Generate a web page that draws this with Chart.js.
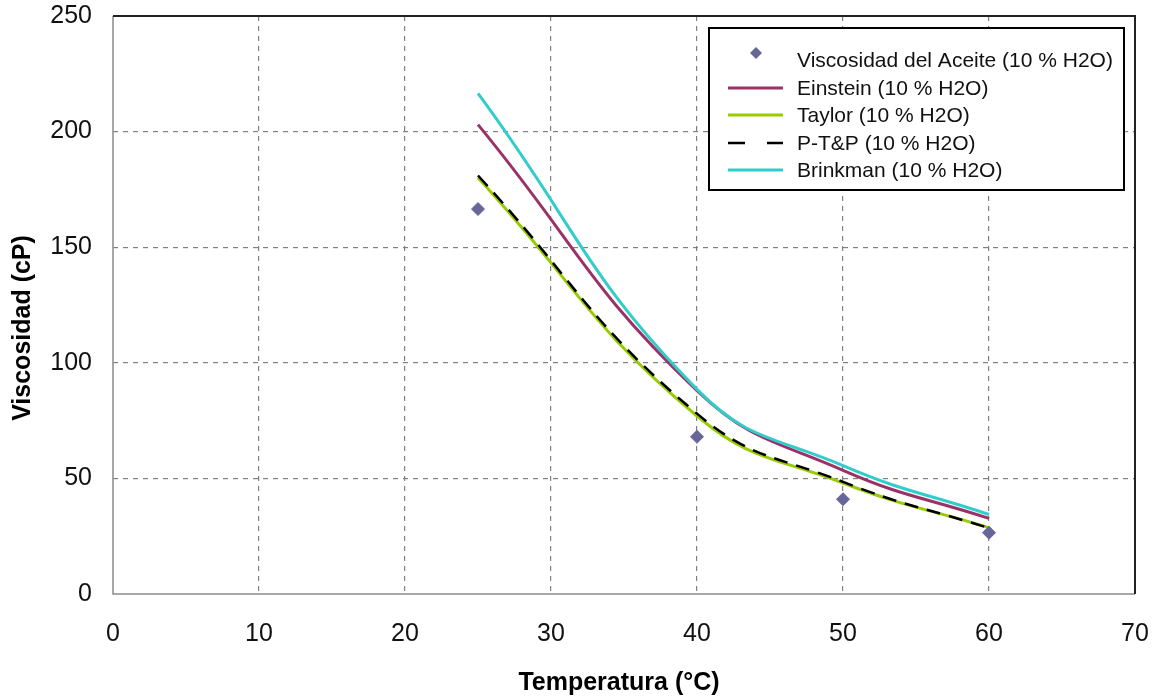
<!DOCTYPE html>
<html>
<head>
<meta charset="utf-8">
<script src="https://cdn.jsdelivr.net/npm/chart.js@4.4.1/dist/chart.umd.min.js"></script>
<style>
html,body{margin:0;padding:0;background:#fff;}
canvas{display:block;}
</style>
</head>
<body>
<canvas id="c" width="1154" height="700"></canvas>
<script>
const temperatures = [25, 40, 50, 60];
const viscosidadAceite = [166.5, 68, 41, 26.5];
const einstein = [203, 88, 53.5, 32.7];
const taylor = [180, 77, 48, 28.7];
const ptp = [181, 78, 48.5, 28.5];
const brinkman = [216.5, 88.5, 55.5, 34.4];
const seriesLabels = [
  'Viscosidad del Aceite (10 % H2O)',
  'Einstein (10 % H2O)',
  'Taylor (10 % H2O)',
  'P-T&P (10 % H2O)',
  'Brinkman (10 % H2O)'
];
const xTitle = 'Temperatura (°C)';
const yTitle = 'Viscosidad (cP)';
const xTicks = [0, 10, 20, 30, 40, 50, 60, 70];
const yTicks = [0, 50, 100, 150, 200, 250];

const pts = arr => temperatures.map((t, i) => ({x: t, y: arr[i]}));
const FONT = "'Liberation Sans', Arial, sans-serif";

const datasets = [
  {label: seriesLabels[0], data: pts(viscosidadAceite), showLine: false, pointStyle: 'rectRot',
   pointRadius: 6.5, pointBackgroundColor: '#666699', pointBorderColor: '#666699', borderColor: '#666699', order: 0},
  {label: seriesLabels[1], data: pts(einstein), showLine: true, borderColor: '#993366', borderWidth: 3,
   pointRadius: 0, tension: 0.45, order: 4},
  {label: seriesLabels[2], data: pts(taylor), showLine: true, borderColor: '#99cc00', borderWidth: 3,
   pointRadius: 0, tension: 0.45, order: 3},
  {label: seriesLabels[3], data: pts(ptp), showLine: true, borderColor: '#000000', borderWidth: 2.5,
   borderDash: [14, 9], pointRadius: 0, tension: 0.45, order: 2},
  {label: seriesLabels[4], data: pts(brinkman), showLine: true, borderColor: '#33cccc', borderWidth: 3,
   pointRadius: 0, tension: 0.45, order: 1}
];

const frameAndText = {
  id: 'frameAndText',
  afterDraw(chart) {
    const {ctx, chartArea: a} = chart;
    ctx.save();
    // plot frame
    ctx.lineWidth = 1.5;
    ctx.strokeStyle = '#8a8a8a';
    ctx.beginPath(); ctx.moveTo(a.left, a.top); ctx.lineTo(a.left, a.bottom); ctx.lineTo(a.right, a.bottom); ctx.stroke();
    ctx.strokeStyle = '#222';
    ctx.lineWidth = 2;
    ctx.beginPath(); ctx.moveTo(a.left, a.top); ctx.lineTo(a.right, a.top); ctx.lineTo(a.right, a.bottom); ctx.stroke();

    // axis titles
    ctx.fillStyle = '#000';
    ctx.font = 'bold 25px ' + FONT;
    ctx.textAlign = 'center';
    ctx.textBaseline = 'middle';
    ctx.fillText(xTitle, 619, 683);
    ctx.translate(23, 328);
    ctx.rotate(-Math.PI / 2);
    ctx.fillText(yTitle, 0, 0);
    ctx.restore();

    // legend
    ctx.save();
    const bx = 709, by = 28, bw = 415, bh = 162;
    ctx.fillStyle = '#fff';
    ctx.fillRect(bx, by, bw, bh);
    ctx.strokeStyle = '#000';
    ctx.lineWidth = 2;
    ctx.strokeRect(bx, by, bw, bh);
    const rows = [60, 88, 115, 143, 170];
    ctx.font = '21px ' + FONT;
    ctx.textAlign = 'left';
    ctx.textBaseline = 'middle';
    chart.data.datasets.forEach((ds, i) => {
      const y = rows[i];
      if (ds.showLine === false) {
        ctx.fillStyle = ds.pointBackgroundColor;
        ctx.beginPath();
        ctx.moveTo(756, y - 13); ctx.lineTo(762, y - 7); ctx.lineTo(756, y - 1); ctx.lineTo(750, y - 7);
        ctx.closePath(); ctx.fill();
      } else {
        ctx.strokeStyle = ds.borderColor;
        ctx.lineWidth = ds.borderWidth;
        ctx.setLineDash(ds.borderDash ? [17, 22] : []);
        ctx.beginPath(); ctx.moveTo(728, y); ctx.lineTo(783, y); ctx.stroke();
        ctx.setLineDash([]);
      }
      ctx.fillStyle = '#111';
      ctx.fillText(ds.label, 797, y + 1);
    });
    ctx.restore();
  }
};

const gridColor = (maxV) => (c) => (c.tick && (c.tick.value === 0 || c.tick.value === maxV)) ? 'rgba(0,0,0,0)' : '#808080';

new Chart(document.getElementById('c'), {
  type: 'scatter',
  data: {datasets},
  options: {
    responsive: false,
    animation: false,
    devicePixelRatio: 1,
    layout: {padding: {top: 16, right: 19, left: 0, bottom: 0}},
    plugins: {legend: {display: false}, tooltip: {enabled: false}},
    scales: {
      x: {
        type: 'linear', min: 0, max: 70,
        afterBuildTicks: s => { s.ticks = xTicks.map(v => ({value: v})); },
        afterFit: s => { s.height = 106; s.paddingLeft = 0; s.paddingRight = 0; },
        ticks: {font: {family: FONT, size: 25}, color: '#111', padding: 25},
        grid: {color: gridColor(70), drawTicks: false, lineWidth: 1.2},
        border: {display: false, dash: [5, 5]},
        title: {display: false}
      },
      y: {
        type: 'linear', min: 0, max: 250,
        afterBuildTicks: s => { s.ticks = yTicks.map(v => ({value: v})); },
        afterFit: s => { s.width = 113; s.paddingTop = 0; s.paddingBottom = 0; },
        ticks: {font: {family: FONT, size: 25}, color: '#111', padding: 21},
        grid: {color: gridColor(250), drawTicks: false, lineWidth: 1.2},
        border: {display: false, dash: [5, 5]},
        title: {display: false}
      }
    }
  },
  plugins: [frameAndText]
});
</script>
</body>
</html>
